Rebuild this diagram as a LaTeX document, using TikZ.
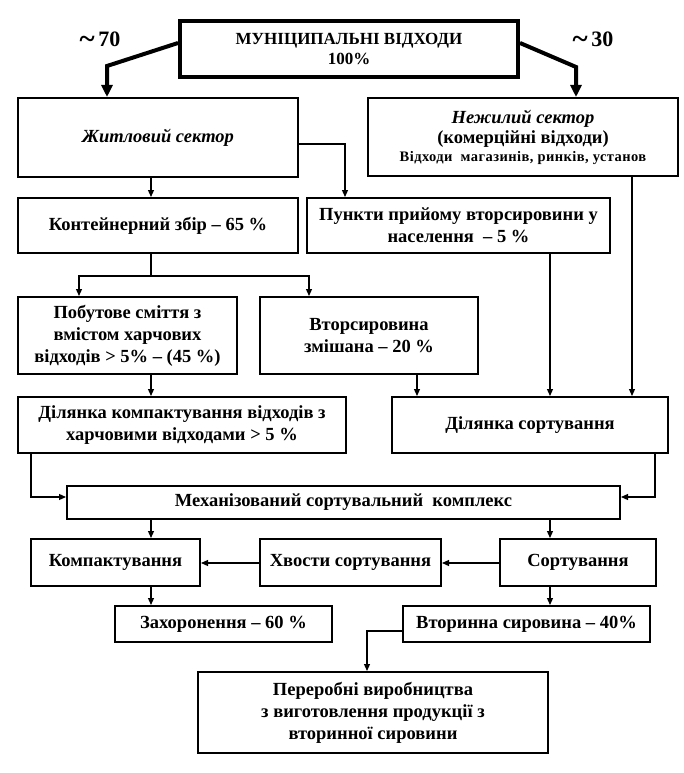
\documentclass[tikz,border=0pt]{standalone}
\usepackage{fontspec}
\setmainfont{Liberation Serif}
\usetikzlibrary{arrows.meta}
\newcommand{\bigtilde}{\raisebox{-2.5pt}{\fontsize{29}{29}\selectfont\textasciitilde}}
\begin{document}
\begin{tikzpicture}[x=1pt,y=-1pt,
  box/.style={draw,line width=2pt,inner sep=0pt,align=center,
    font=\fontsize{18.5}{22}\selectfont\bfseries},
  thin/.style={line width=1.2pt,-{Triangle[length=7pt,width=6pt]}},
  plain/.style={line width=1.2pt},
  fat/.style={line width=4pt,-{Triangle[length=12pt,width=11pt]}},
  pct/.style={font=\fontsize{22}{24}\selectfont\bfseries}]
\useasboundingbox (0,0) rectangle (684,773);
% boxes
\node[box,line width=4pt,minimum width=338pt,minimum height=56pt,font=\fontsize{17}{20}\selectfont\bfseries] (top) at (349,49)
  {МУНІЦИПАЛЬНІ ВІДХОДИ\\100\%};
\node[pct] (p70) at (100,40) {\bigtilde\,70};
\node[pct] (p30) at (593,40) {\bigtilde\,30};
\node[box,minimum width=280pt,minimum height=79pt] (zh) at (158,137.5) {\textit{Житловий сектор}};
\node[box,minimum width=310pt,minimum height=78pt] (nezh) at (523,137)
  {\textit{Нежилий сектор}\\[-2pt](комерційні відходи)\\[-4pt]{\fontsize{14.5}{16}\selectfont\addfontfeature{LetterSpace=3}Відходи\ \ магазинів, ринків, установ}};
\node[box,minimum width=280pt,minimum height=55pt] (kont) at (158,225.5) {Контейнерний збір – 65 \%};
\node[box,minimum width=303pt,minimum height=55pt] (punkt) at (458.5,225.5) {Пункти прийому вторсировини у\\населення\ \ – 5 \%};
\node[box,minimum width=219pt,minimum height=77pt] (pob) at (127.5,335.5) {Побутове сміття з\\вмістом харчових\\відходів > 5\% – (45 \%)};
\node[box,minimum width=218pt,minimum height=77pt] (vtor) at (369,335.5) {Вторсировина\\змішана – 20 \%};
\node[box,minimum width=328pt,minimum height=56pt] (dkomp) at (182,425) {Ділянка компактування відходів з\\харчовими відходами > 5 \%};
\node[box,minimum width=276pt,minimum height=56pt] (dsort) at (530,425) {Ділянка сортування};
\node[box,minimum width=553pt,minimum height=33pt] (mech) at (343.5,502.5) {Механізований сортувальний\ \ комплекс};
\node[box,minimum width=169pt,minimum height=47pt] (komp) at (115.5,562.5) {\raisebox{5pt}{Компактування}};
\node[box,minimum width=181pt,minimum height=47pt] (khv) at (350.5,562.5) {\raisebox{5pt}{Хвости сортування}};
\node[box,minimum width=156pt,minimum height=47pt] (sort) at (578,562.5) {\raisebox{5pt}{Сортування}};
\node[box,minimum width=217pt,minimum height=36pt] (zakh) at (223.5,624) {Захоронення – 60 \%};
\node[box,minimum width=247pt,minimum height=36pt] (vtory) at (526.5,624) {Вторинна сировина – 40\%};
\node[box,minimum width=350pt,minimum height=81pt] (perer) at (373,712.5) {Переробні виробництва\\з виготовлення продукції з\\вторинної сировини};
% column coordinates
\coordinate (a107) at (107,66);
\coordinate (a576) at (576,67);
\coordinate (x151) at (151,0);
\coordinate (x345) at (345,0);
\coordinate (x550) at (550,0);
\coordinate (x632) at (632,0);
\coordinate (x79) at (79,0);
\coordinate (x309) at (309,0);
\coordinate (x417) at (417,0);
\coordinate (x31) at (31,497);
\coordinate (x655) at (655,497);
\coordinate (br) at (151,276);
\coordinate (x367) at (367,631);
% thick arrows
\draw[fat] ([yshift=6pt]top.west) -- (a107) -- (a107 |- zh.north);
\draw[fat] ([yshift=6pt]top.east) -- (a576) -- (a576 |- nezh.north);
% thin connectors
\draw[thin] (x151 |- zh.south) -- (x151 |- kont.north);
\draw[thin] (zh.east |- 0,144) -| (x345 |- punkt.north);
\draw[thin] (x632 |- nezh.south) -- (x632 |- dsort.north);
\draw[thin] (x550 |- punkt.south) -- (x550 |- dsort.north);
\draw[plain] (x151 |- kont.south) -- (br);
\draw[thin] (br) -| (x79 |- pob.north);
\draw[thin] (br) -| (x309 |- vtor.north);
\draw[thin] (x151 |- pob.south) -- (x151 |- dkomp.north);
\draw[thin] (x417 |- vtor.south) -- (x417 |- dsort.north);
\draw[thin] (x31 |- dkomp.south) -- (x31) -- (x31 -| mech.west);
\draw[thin] (x655 |- dsort.south) -- (x655) -- (x655 -| mech.east);
\draw[thin] (x151 |- mech.south) -- (x151 |- komp.north);
\draw[thin] (x550 |- mech.south) -- (x550 |- sort.north);
\draw[thin] (sort.west |- 0,563) -- (khv.east |- 0,563);
\draw[thin] (khv.west |- 0,563) -- (komp.east |- 0,563);
\draw[thin] (x151 |- komp.south) -- (x151 |- zakh.north);
\draw[thin] (x550 |- sort.south) -- (x550 |- vtory.north);
\draw[thin] (vtory.west |- x367) -- (x367) -- (x367 |- perer.north);
\end{tikzpicture}
\end{document}
